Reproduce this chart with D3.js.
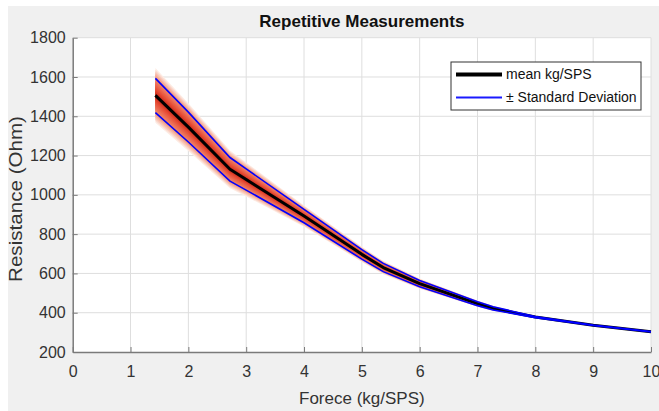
<!DOCTYPE html>
<html>
<head>
<meta charset="utf-8">
<script src="https://cdn.jsdelivr.net/npm/d3@7"></script>
<style>
  html, body { margin: 0; padding: 0; background: #fff; }
  svg { display: block; font-family: Arial, "Liberation Sans", sans-serif; }
</style>
</head>
<body>
<svg id="chart" width="659" height="411"></svg>
<script>
// Measured force points (kg/SPS), mean resistance and its standard deviation.
const forces = [ 1.43, 2.0, 2.72, 3.0, 4.0, 5.0, 5.37, 6.0, 7.0, 7.27, 8.0, 9.0, 10.0 ];
const means  = [ 1506, 1345, 1130, 1078, 892, 697, 630, 548, 446, 422, 378, 336, 303 ];
const stds   = [ 87, 76, 60, 54, 34, 24, 21, 16, 10, 8, 3, 1, 1 ];

// Axis ticks.
const xTicks = [ 0, 1, 2, 3, 4, 5, 6, 7, 8, 9, 10 ];
const yTicks = [ 200, 400, 600, 800, 1000, 1200, 1400, 1600, 1800 ];

const legendItems = [ 'mean kg/SPS', '\u00b1 Standard Deviation' ];

const points = forces.map( ( f, i ) => ( { x: f, m: means[i], s: stds[i] } ) );

// Plot box.
const W = 659, H = 411;
const plotL = 72.7, plotR = 651, plotT = 37.7, plotB = 352;

const svg = d3.select( '#chart' );

// Figure background (MATLAB grey) and white axes.
svg.append( 'rect' ).attr( 'x', 8 ).attr( 'y', 6 ).attr( 'width', W - 8 ).attr( 'height', H - 6 ).attr( 'fill', '#f0f0f0' );
svg.append( 'rect' ).attr( 'x', plotL ).attr( 'y', plotT ).attr( 'width', plotR - plotL ).attr( 'height', plotB - plotT ).attr( 'fill', '#fff' );

const x = d3.scaleLinear( ).domain( [ 0, 10 ] ).range( [ plotL, plotR ] );
const y = d3.scaleLinear( ).domain( [ 200, 1800 ] ).range( [ plotB, plotT ] );

// Grid.
const grid = svg.append( 'g' ).attr( 'stroke', '#dedede' ).attr( 'stroke-width', 1 );
grid.selectAll( 'line.gx' ).data( xTicks.slice( 1 ) ).enter( ).append( 'line' )
  .attr( 'x1', d => x( d ) ).attr( 'x2', d => x( d ) ).attr( 'y1', plotT ).attr( 'y2', plotB );
grid.selectAll( 'line.gy' ).data( yTicks.slice( 1 ) ).enter( ).append( 'line' )
  .attr( 'x1', plotL ).attr( 'x2', plotR ).attr( 'y1', d => y( d ) ).attr( 'y2', d => y( d ) );

// Shaded spread: stacked bands, outer ones pale, inner ones deep red.
const bandColor = d3.scaleLinear( )
  .domain( [ 1.6, 1.05, 0.35, 0 ] )
  .range( [ '#fdece4', '#f28a6e', '#e4452f', '#b51b10' ] );
const ks = d3.range( 1.6, 0, -0.1 );
const band = k => d3.area( )
  .x( d => x( d.x ) )
  .y0( d => y( d.m - k * d.s ) )
  .y1( d => y( d.m + k * d.s ) );
svg.append( 'g' ).selectAll( 'path' ).data( ks ).enter( ).append( 'path' )
  .attr( 'd', k => band( k )( points ) )
  .attr( 'fill', k => bandColor( k ) );

// Mean line.
const line = d3.line( ).x( d => x( d.x ) ).y( d => y( d.m ) );
svg.append( 'path' ).attr( 'd', line( points ) )
  .attr( 'fill', 'none' ).attr( 'stroke', '#000' ).attr( 'stroke-width', 3 ).attr( 'stroke-linejoin', 'round' );

// Plus / minus one standard deviation.
[ 1, -1 ].forEach( sign => {
  const sd = d3.line( ).x( d => x( d.x ) ).y( d => y( d.m + sign * d.s ) );
  svg.append( 'path' ).attr( 'd', sd( points ) )
    .attr( 'fill', 'none' ).attr( 'stroke', '#0000ff' ).attr( 'stroke-width', 1.6 );
} );

// Axes (ticks point inwards, MATLAB style).
const xAxis = svg.append( 'g' ).attr( 'transform', `translate(0,${plotB})` )
  .call( d3.axisBottom( x ).tickValues( xTicks ).tickFormat( d3.format( 'd' ) )
    .tickSizeInner( -5 ).tickSizeOuter( 0 ).tickPadding( 14 ) );
const yAxis = svg.append( 'g' ).attr( 'transform', `translate(${plotL},0)` )
  .call( d3.axisLeft( y ).tickValues( yTicks ).tickFormat( d3.format( 'd' ) )
    .tickSizeInner( -5 ).tickSizeOuter( 0 ).tickPadding( 7 ) );
[ xAxis, yAxis ].forEach( a => {
  a.attr( 'font-size', 16 ).attr( 'font-family', null );
  a.select( '.domain' ).attr( 'stroke', '#7a7a7a' ).attr( 'stroke-width', 1.5 );
  a.selectAll( '.tick line' ).attr( 'stroke', '#7a7a7a' );
  a.selectAll( '.tick text' ).attr( 'fill', '#333' );
} );

// Title and axis labels.
svg.append( 'text' ).attr( 'x', ( plotL + plotR ) / 2 ).attr( 'y', 27 )
  .attr( 'text-anchor', 'middle' ).style( 'font-size', '17px' ).style( 'font-weight', 'bold' ).attr( 'fill', '#111' )
  .text( 'Repetitive Measurements' );
svg.append( 'text' ).attr( 'x', ( plotL + plotR ) / 2 ).attr( 'y', 404 )
  .attr( 'text-anchor', 'middle' ).style( 'font-size', '17px' ).attr( 'fill', '#333' )
  .text( 'Forece (kg/SPS)' );
svg.append( 'text' ).attr( 'transform', 'translate(22,199) rotate(-90)' )
  .attr( 'text-anchor', 'middle' ).style( 'font-size', '19px' ).attr( 'fill', '#333' )
  .attr( 'textLength', 166 ).attr( 'lengthAdjust', 'spacingAndGlyphs' )
  .text( 'Resistance (Ohm)' );

// Legend.
const lg = svg.append( 'g' ).attr( 'transform', 'translate(451,62)' );
lg.append( 'rect' ).attr( 'width', 190 ).attr( 'height', 48 )
  .attr( 'fill', '#fff' ).attr( 'stroke', '#333' ).attr( 'stroke-width', 1 );
const legendStyle = [ { color: '#000', width: 4 }, { color: '#1a1aff', width: 2 } ];
legendItems.forEach( ( label, i ) => {
  const cy = 12.5 + i * 23;
  lg.append( 'line' ).attr( 'x1', 5 ).attr( 'x2', 51 ).attr( 'y1', cy ).attr( 'y2', cy )
    .attr( 'stroke', legendStyle[i].color ).attr( 'stroke-width', legendStyle[i].width );
  lg.append( 'text' ).attr( 'x', 55 ).attr( 'y', cy ).attr( 'dy', '0.35em' )
    .style( 'font-size', '14px' ).attr( 'fill', '#111' ).text( label );
} );
</script>
</body>
</html>
